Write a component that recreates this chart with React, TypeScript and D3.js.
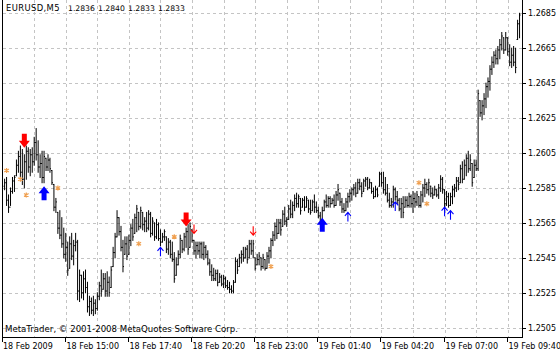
import React from "react";
import * as d3 from "d3";

const W = 560;
const H = 353;

const barOpen = [1.2586,1.2588,1.2578,1.2574,1.2583,1.2589,1.2592,1.2598,1.2603,1.2594,
1.2590,1.2600,1.2606,1.2597,1.2604,1.2600,1.2611,1.2604,1.2597,1.2599,
1.2591,1.2602,1.2597,1.2601,1.2595,1.2587,1.2574,1.2571,1.2562,1.2558,
1.2553,1.2547,1.2551,1.2539,1.2553,1.2546,1.2552,1.2554,1.2526,1.2535,
1.2525,1.2533,1.2528,1.2517,1.2520,1.2515,1.2519,1.2516,1.2523,1.2529,
1.2527,1.2533,1.2526,1.2531,1.2528,1.2540,1.2548,1.2557,1.2568,1.2560,
1.2551,1.2547,1.2553,1.2547,1.2555,1.2562,1.2559,1.2568,1.2571,1.2563,
1.2571,1.2564,1.2566,1.2562,1.2570,1.2559,1.2565,1.2557,1.2564,1.2556,
1.2554,1.2557,1.2557,1.2550,1.2554,1.2547,1.2544,1.2535,1.2541,1.2547,
1.2555,1.2550,1.2557,1.2560,1.2551,1.2561,1.2555,1.2549,1.2552,1.2549,
1.2553,1.2547,1.2551,1.2547,1.2542,1.2537,1.2535,1.2533,1.2536,1.2531,
1.2534,1.2530,1.2533,1.2529,1.2528,1.2527,1.2526,1.2531,1.2543,1.2540,
1.2545,1.2547,1.2545,1.2550,1.2545,1.2553,1.2549,1.2545,1.2541,1.2544,
1.2545,1.2540,1.2544,1.2539,1.2546,1.2549,1.2555,1.2558,1.2563,1.2559,
1.2565,1.2563,1.2570,1.2566,1.2567,1.2573,1.2570,1.2575,1.2579,1.2576,
1.2579,1.2574,1.2578,1.2574,1.2578,1.2573,1.2572,1.2577,1.2574,1.2572,
1.2569,1.2567,1.2572,1.2577,1.2575,1.2579,1.2576,1.2578,1.2575,1.2581,
1.2582,1.2577,1.2573,1.2572,1.2577,1.2580,1.2582,1.2584,1.2585,1.2582,
1.2588,1.2586,1.2583,1.2589,1.2590,1.2585,1.2588,1.2583,1.2580,1.2584,
1.2586,1.2593,1.2588,1.2584,1.2582,1.2578,1.2575,1.2577,1.2584,1.2580,
1.2578,1.2573,1.2576,1.2574,1.2578,1.2575,1.2580,1.2576,1.2579,1.2577,
1.2580,1.2575,1.2581,1.2585,1.2587,1.2584,1.2586,1.2582,1.2581,1.2584,
1.2581,1.2585,1.2590,1.2584,1.2576,1.2580,1.2575,1.2580,1.2584,1.2585,
1.2589,1.2588,1.2596,1.2590,1.2598,1.2602,1.2596,1.2599,1.2591,1.2598,
1.2596,1.2635,1.2628,1.2632,1.2636,1.2643,1.2646,1.2653,1.2657,1.2661,
1.2659,1.2664,1.2667,1.2671,1.2664,1.2671,1.2663,1.2657,1.2661,1.2657,
1.2670,1.2679];

const barHigh = [1.2590,1.2591,1.2581,1.2585,1.2591,1.2592,1.2601,1.2606,1.2609,1.2607,
1.2604,1.2609,1.2608,1.2607,1.2608,1.2614,1.2619,1.2612,1.2604,1.2606,
1.2606,1.2602,1.2604,1.2602,1.2595,1.2587,1.2579,1.2571,1.2572,1.2568,
1.2562,1.2559,1.2554,1.2557,1.2559,1.2555,1.2559,1.2555,1.2538,1.2535,
1.2537,1.2538,1.2531,1.2523,1.2522,1.2523,1.2521,1.2525,1.2531,1.2538,
1.2536,1.2536,1.2537,1.2534,1.2540,1.2551,1.2559,1.2572,1.2568,1.2563,
1.2555,1.2557,1.2557,1.2558,1.2564,1.2567,1.2570,1.2575,1.2571,1.2574,
1.2571,1.2568,1.2571,1.2572,1.2571,1.2568,1.2565,1.2567,1.2565,1.2561,
1.2559,1.2561,1.2557,1.2556,1.2555,1.2554,1.2548,1.2545,1.2549,1.2558,
1.2555,1.2559,1.2562,1.2564,1.2565,1.2561,1.2555,1.2554,1.2554,1.2554,
1.2554,1.2554,1.2552,1.2549,1.2544,1.2541,1.2539,1.2538,1.2538,1.2536,
1.2535,1.2535,1.2534,1.2532,1.2531,1.2529,1.2532,1.2545,1.2544,1.2547,
1.2549,1.2551,1.2551,1.2552,1.2555,1.2555,1.2555,1.2545,1.2547,1.2548,
1.2545,1.2547,1.2544,1.2548,1.2551,1.2556,1.2560,1.2565,1.2567,1.2567,
1.2567,1.2572,1.2574,1.2568,1.2575,1.2578,1.2577,1.2581,1.2582,1.2581,
1.2579,1.2579,1.2580,1.2580,1.2578,1.2578,1.2578,1.2581,1.2577,1.2574,
1.2571,1.2574,1.2578,1.2581,1.2580,1.2580,1.2579,1.2581,1.2583,1.2587,
1.2582,1.2579,1.2576,1.2579,1.2582,1.2584,1.2585,1.2587,1.2588,1.2590,
1.2590,1.2588,1.2590,1.2591,1.2591,1.2590,1.2588,1.2585,1.2586,1.2585,
1.2594,1.2594,1.2594,1.2591,1.2587,1.2582,1.2579,1.2586,1.2585,1.2583,
1.2579,1.2579,1.2580,1.2580,1.2580,1.2582,1.2581,1.2583,1.2582,1.2583,
1.2580,1.2583,1.2587,1.2590,1.2588,1.2590,1.2586,1.2585,1.2586,1.2584,
1.2587,1.2592,1.2591,1.2584,1.2583,1.2582,1.2582,1.2586,1.2587,1.2591,
1.2591,1.2598,1.2600,1.2601,1.2604,1.2606,1.2604,1.2599,1.2601,1.2601,
1.2641,1.2635,1.2635,1.2639,1.2645,1.2648,1.2655,1.2660,1.2663,1.2664,
1.2666,1.2670,1.2674,1.2671,1.2674,1.2671,1.2667,1.2665,1.2666,1.2665,
1.2681,1.2685];

const barLow = [1.2584,1.2575,1.2571,1.2575,1.2582,1.2583,1.2592,1.2594,1.2591,1.2587,
1.2585,1.2590,1.2594,1.2592,1.2594,1.2598,1.2601,1.2594,1.2591,1.2588,
1.2588,1.2595,1.2595,1.2594,1.2587,1.2572,1.2571,1.2559,1.2556,1.2551,
1.2545,1.2543,1.2535,1.2539,1.2544,1.2541,1.2549,1.2521,1.2520,1.2522,
1.2521,1.2525,1.2514,1.2512,1.2513,1.2512,1.2513,1.2515,1.2521,1.2523,
1.2527,1.2523,1.2523,1.2523,1.2528,1.2540,1.2545,1.2557,1.2558,1.2549,
1.2537,1.2547,1.2544,1.2547,1.2552,1.2555,1.2559,1.2560,1.2561,1.2562,
1.2561,1.2560,1.2560,1.2561,1.2557,1.2558,1.2555,1.2556,1.2555,1.2552,
1.2554,1.2555,1.2548,1.2547,1.2545,1.2543,1.2531,1.2535,1.2541,1.2545,
1.2548,1.2549,1.2551,1.2547,1.2551,1.2554,1.2547,1.2545,1.2547,1.2545,
1.2545,1.2544,1.2545,1.2541,1.2535,1.2532,1.2532,1.2532,1.2529,1.2531,
1.2529,1.2528,1.2528,1.2527,1.2525,1.2525,1.2525,1.2531,1.2536,1.2540,
1.2542,1.2543,1.2545,1.2542,1.2545,1.2547,1.2545,1.2538,1.2541,1.2541,
1.2538,1.2539,1.2538,1.2539,1.2542,1.2545,1.2552,1.2555,1.2556,1.2559,
1.2558,1.2563,1.2564,1.2563,1.2567,1.2568,1.2568,1.2572,1.2574,1.2574,
1.2570,1.2574,1.2572,1.2574,1.2571,1.2570,1.2572,1.2571,1.2571,1.2568,
1.2565,1.2567,1.2572,1.2574,1.2574,1.2574,1.2576,1.2574,1.2575,1.2578,
1.2575,1.2571,1.2571,1.2572,1.2574,1.2577,1.2578,1.2581,1.2580,1.2582,
1.2584,1.2580,1.2583,1.2586,1.2584,1.2585,1.2582,1.2579,1.2580,1.2580,
1.2586,1.2586,1.2582,1.2581,1.2577,1.2574,1.2574,1.2574,1.2578,1.2576,
1.2572,1.2568,1.2568,1.2574,1.2574,1.2574,1.2574,1.2571,1.2574,1.2575,
1.2574,1.2574,1.2577,1.2580,1.2582,1.2581,1.2580,1.2579,1.2581,1.2580,
1.2579,1.2583,1.2582,1.2574,1.2575,1.2574,1.2575,1.2576,1.2580,1.2583,
1.2584,1.2588,1.2588,1.2590,1.2592,1.2594,1.2595,1.2586,1.2591,1.2595,
1.2595,1.2626,1.2624,1.2627,1.2631,1.2637,1.2641,1.2650,1.2654,1.2656,
1.2656,1.2659,1.2664,1.2662,1.2664,1.2661,1.2655,1.2654,1.2655,1.2651,
1.2670,1.2671];

const barClose = [1.2588,1.2578,1.2574,1.2583,1.2589,1.2591,1.2598,1.2603,1.2594,1.2590,
1.2600,1.2606,1.2597,1.2604,1.2600,1.2611,1.2604,1.2597,1.2599,1.2591,
1.2603,1.2597,1.2601,1.2596,1.2588,1.2574,1.2577,1.2562,1.2558,1.2553,
1.2547,1.2551,1.2538,1.2553,1.2546,1.2552,1.2554,1.2526,1.2535,1.2525,
1.2533,1.2528,1.2517,1.2520,1.2515,1.2519,1.2516,1.2523,1.2529,1.2526,
1.2533,1.2526,1.2531,1.2525,1.2538,1.2548,1.2557,1.2568,1.2560,1.2551,
1.2540,1.2553,1.2546,1.2555,1.2562,1.2557,1.2568,1.2573,1.2563,1.2572,
1.2564,1.2566,1.2562,1.2570,1.2559,1.2566,1.2557,1.2564,1.2556,1.2554,
1.2557,1.2560,1.2550,1.2554,1.2547,1.2544,1.2533,1.2541,1.2547,1.2556,
1.2550,1.2557,1.2560,1.2550,1.2563,1.2555,1.2549,1.2552,1.2549,1.2553,
1.2547,1.2551,1.2547,1.2542,1.2537,1.2535,1.2533,1.2536,1.2531,1.2534,
1.2530,1.2533,1.2529,1.2528,1.2527,1.2526,1.2531,1.2543,1.2538,1.2545,
1.2547,1.2545,1.2550,1.2544,1.2553,1.2549,1.2553,1.2539,1.2544,1.2546,
1.2540,1.2545,1.2539,1.2546,1.2549,1.2555,1.2558,1.2563,1.2559,1.2565,
1.2561,1.2570,1.2566,1.2567,1.2573,1.2570,1.2575,1.2579,1.2576,1.2580,
1.2572,1.2578,1.2574,1.2579,1.2573,1.2571,1.2577,1.2574,1.2572,1.2569,
1.2566,1.2572,1.2577,1.2575,1.2579,1.2576,1.2578,1.2575,1.2581,1.2584,
1.2577,1.2573,1.2572,1.2577,1.2580,1.2582,1.2584,1.2585,1.2582,1.2588,
1.2586,1.2582,1.2589,1.2590,1.2585,1.2588,1.2583,1.2580,1.2584,1.2581,
1.2593,1.2588,1.2584,1.2582,1.2578,1.2575,1.2577,1.2584,1.2580,1.2578,
1.2573,1.2576,1.2571,1.2578,1.2575,1.2580,1.2576,1.2579,1.2577,1.2581,
1.2575,1.2581,1.2585,1.2587,1.2584,1.2588,1.2582,1.2581,1.2584,1.2581,
1.2585,1.2590,1.2584,1.2576,1.2580,1.2575,1.2580,1.2584,1.2585,1.2589,
1.2587,1.2596,1.2590,1.2598,1.2602,1.2596,1.2601,1.2588,1.2598,1.2596,
1.2639,1.2628,1.2632,1.2636,1.2643,1.2646,1.2653,1.2657,1.2661,1.2659,
1.2664,1.2667,1.2672,1.2664,1.2671,1.2663,1.2657,1.2661,1.2657,1.2654,
1.2679,1.2684];

const priceTicks = [1.2685, 1.2665, 1.2645, 1.2625, 1.2605, 1.2585, 1.2565, 1.2545, 1.2525, 1.2505];
const firstBarTime = new Date(2009, 1, 18, 12, 25);
const barMinutes = 5;
const timeLabelBars = [0, 31, 63, 95, 127, 159, 191, 223, 255];
const gridBars = [15, 31, 47, 63, 79, 95, 111, 127, 143, 159, 175, 191, 207, 223, 239, 255];

const headerSymbol = "EURUSD,M5";
const headerQuotes = ["1.2836", "1.2840", "1.2833", "1.2833"];
const copyrightText = "MetaTrader, \u00A9 2001-2008 MetaQuotes Software Corp.";

const bigDownBars = [10, 92];
const bigDownPrices = [1.2608, 1.2563];
const smallDownBars = [96, 126];
const smallDownPrices = [1.2559, 1.2558];
const bigUpBars = [20, 161];
const bigUpPrices = [1.2586, 1.2568];
const smallUpBars = [79, 174, 198, 223, 226];
const smallUpPrices = [1.2551, 1.2571, 1.2577, 1.2574, 1.2572];
const starBars = [1, 8, 11, 27, 68, 86, 135, 210, 214];
const starPrices = [1.2595, 1.2590, 1.2581, 1.2585, 1.2553, 1.2557, 1.2540, 1.2588, 1.2576];

const FONT = "'DejaVu Sans', Verdana, sans-serif";

export default function App() {
  const n = barHigh.length;
  const left = 3;
  const right = 523;
  const bottom = 338;
  const x = d3.scaleLinear().domain([0, n - 1]).range([4.6, 4.6 + (n - 1) * 1.973]);
  const y = d3.scaleLinear().domain([1.2505, 1.2685]).range([327.7, 13.3]);
  const fmtFirst = d3.timeFormat("%d %b %Y");
  const fmt = d3.timeFormat("%d %b %H:%M");
  const barTime = (i: number) => d3.timeMinute.offset(firstBarTime, i * barMinutes);

  const px = (v: number) => Math.round(v) + 0.5;

  const bigDown = (cx: number, ty: number) =>
    `M${cx - 2.5},${ty - 14} L${cx + 2.5},${ty - 14} L${cx + 2.5},${ty - 7} L${cx + 5.5},${ty - 7} L${cx},${ty} L${cx - 5.5},${ty - 7} L${cx - 2.5},${ty - 7} Z`;
  const bigUp = (cx: number, ty: number) =>
    `M${cx - 2.5},${ty + 14} L${cx + 2.5},${ty + 14} L${cx + 2.5},${ty + 7} L${cx + 5.5},${ty + 7} L${cx},${ty} L${cx - 5.5},${ty + 7} L${cx - 2.5},${ty + 7} Z`;
  const smallDown = (cx: number, ty: number) =>
    `M${cx},${ty - 9} L${cx},${ty} M${cx - 3},${ty - 3.5} L${cx},${ty} L${cx + 3},${ty - 3.5}`;
  const smallUp = (cx: number, ty: number) =>
    `M${cx},${ty + 9} L${cx},${ty} M${cx - 3},${ty + 3.5} L${cx},${ty} L${cx + 3},${ty + 3.5}`;

  return (
    <svg
      width={W}
      height={H}
      style={{ position: "absolute", left: 0, top: 0, background: "#fff" }}
      fontFamily={FONT}
    >
      <rect x={0} y={0} width={W} height={H} fill="#fff" />
      {/* grid */}
      <g stroke="#c4c4c4" strokeWidth={1} strokeDasharray="3 3" shapeRendering="crispEdges">
        {priceTicks.map((p) => (
          <line key={"h" + p} x1={left} x2={right} y1={px(y(p))} y2={px(y(p))} />
        ))}
        {gridBars.map((b) => (
          <line key={"v" + b} x1={px(x(b))} x2={px(x(b))} y1={0} y2={bottom} />
        ))}
      </g>
      {/* bars */}
      <g stroke="#000" strokeWidth={1}>
        {barHigh.map((h, i) => {
          const cx = x(i);
          return (
            <g key={i}>
              <line x1={cx} x2={cx} y1={y(h) - 0.5} y2={y(barLow[i]) + 0.5} />
              <line x1={cx - 1} x2={cx} y1={y(barOpen[i])} y2={y(barOpen[i])} />
              <line x1={cx} x2={cx + 1} y1={y(barClose[i])} y2={y(barClose[i])} />
            </g>
          );
        })}
      </g>
      {/* indicator marks */}
      <g stroke="#F0A050" strokeWidth={1.2}>
        {starBars.map((b, i) => {
          const cx = x(b);
          const cy = y(starPrices[i]);
          return (
            <path
              key={"s" + i}
              d={`M${cx},${cy - 2.5} L${cx},${cy + 2.5} M${cx - 2.3},${cy - 1.5} L${cx + 2.3},${cy + 1.5} M${cx - 2.3},${cy + 1.5} L${cx + 2.3},${cy - 1.5}`}
            />
          );
        })}
      </g>
      {bigDownBars.map((b, i) => (
        <path key={"bd" + i} d={bigDown(x(b), y(bigDownPrices[i]))} fill="#ff0000" />
      ))}
      {bigUpBars.map((b, i) => (
        <path key={"bu" + i} d={bigUp(x(b), y(bigUpPrices[i]))} fill="#0000ff" />
      ))}
      {smallDownBars.map((b, i) => (
        <path key={"sd" + i} d={smallDown(x(b), y(smallDownPrices[i]))} stroke="#ff0000" strokeWidth={1.1} fill="none" />
      ))}
      {smallUpBars.map((b, i) => (
        <path key={"su" + i} d={smallUp(x(b), y(smallUpPrices[i]))} stroke="#0000ff" strokeWidth={1.1} fill="none" />
      ))}
      {/* frame */}
      <g stroke="#000" strokeWidth={1} shapeRendering="crispEdges">
        <line x1={left - 0.5} x2={left - 0.5} y1={0} y2={bottom} />
        <line x1={right - 0.5} x2={right - 0.5} y1={0} y2={bottom} />
        <line x1={left - 0.5} x2={right - 0.5} y1={bottom - 0.5} y2={bottom - 0.5} />
        {priceTicks.map((p) => (
          <line key={"pt" + p} x1={right} x2={right + 3} y1={px(y(p))} y2={px(y(p))} />
        ))}
        {timeLabelBars.map((b, i) => {
          const tx = i === 0 ? left - 0.5 : px(x(b)) - 1;
          return <line key={"tt" + b} x1={tx} x2={tx} y1={bottom} y2={bottom + 4} />;
        })}
      </g>
      {/* price labels */}
      <g fontSize={8} fill="#000">
        {priceTicks.map((p) => (
          <text key={"pl" + p} x={528} y={y(p) + 3}>
            {p.toFixed(4)}
          </text>
        ))}
      </g>
      {/* time labels */}
      <g fontSize={8} fill="#000">
        {timeLabelBars.map((b, i) => {
          const tx = i === 0 ? left : px(x(b));
          return (
            <text key={"tl" + b} x={tx} y={348.5}>
              {i === 0 ? fmtFirst(barTime(b)) : fmt(barTime(b))}
            </text>
          );
        })}
      </g>
      {/* header */}
      <g fill="#000">
        <text x={6} y={10.5} fontSize={8.4} letterSpacing={0.4}>
          {headerSymbol}
        </text>
        {headerQuotes.map((t, i) => (
          <text key={"hq" + i} x={68 + i * 30} y={10.5} fontSize={7.7}>
            {t}
          </text>
        ))}
      </g>
      <text x={5} y={332} fontSize={8.6} fill="#000">
        {copyrightText}
      </text>
    </svg>
  );
}
